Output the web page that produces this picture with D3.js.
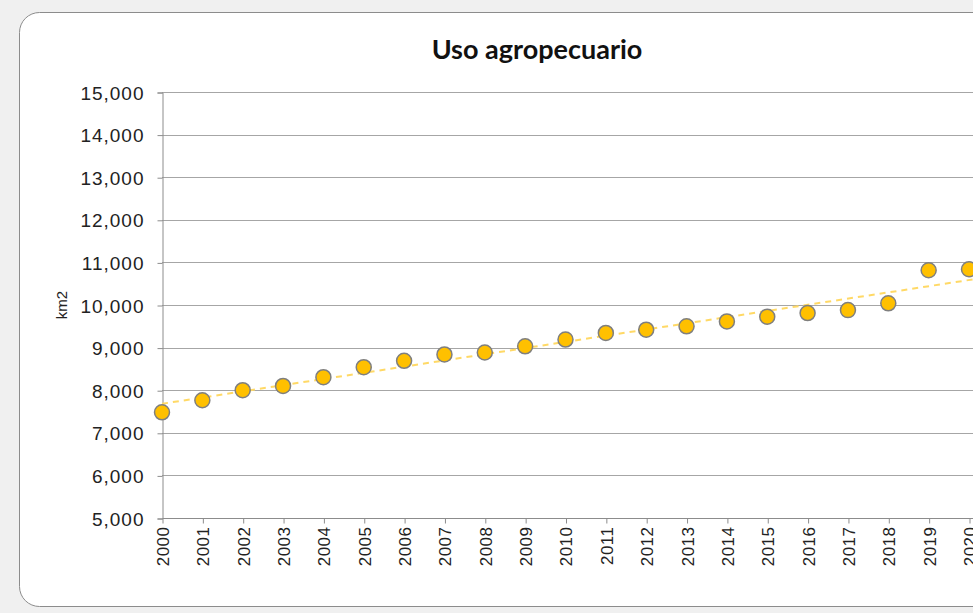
<!DOCTYPE html>
<html>
<head>
<meta charset="utf-8">
<script src="https://cdn.jsdelivr.net/npm/d3@7"></script>
<style>
  body { margin: 0; background: #f0f0f0; overflow: hidden; }
</style>
</head>
<body>
<div id="chart"></div>
<script>
var width = 973, height = 613;

// data
var years = ["2000","2001","2002","2003","2004","2005","2006","2007","2008","2009","2010",
             "2011","2012","2013","2014","2015","2016","2017","2018","2019","2020"];
var area = [7480, 7765, 8000, 8100, 8305, 8540, 8690, 8840, 8885, 9030, 9188,
            9345, 9420, 9500, 9615, 9725, 9810, 9880, 10040, 10815, 10840];
var yTicks = [5000, 6000, 7000, 8000, 9000, 10000, 11000, 12000, 13000, 14000, 15000];

var plot = {left: 162, right: 969, top: 92, bottom: 518};

var svg = d3.select("#chart").append("svg")
    .attr("width", width)
    .attr("height", height);

// card
svg.append("rect")
    .attr("x", 19.5).attr("y", 12.5)
    .attr("width", 1000).attr("height", 594)
    .attr("rx", 20).attr("ry", 20)
    .attr("fill", "#ffffff")
    .attr("stroke", "#8c8c8c")
    .attr("stroke-width", 1);

var x = d3.scalePoint().domain(years).range([plot.left, plot.right]);
var y = d3.scaleLinear().domain([5000, 15000]).range([plot.bottom, plot.top]);

// gridlines
svg.append("g").selectAll("line")
    .data(yTicks.slice(1))
  .enter().append("line")
    .attr("x1", plot.left).attr("x2", width)
    .attr("y1", function(d) { return Math.round(y(d)) + 0.5; })
    .attr("y2", function(d) { return Math.round(y(d)) + 0.5; })
    .attr("stroke", "#a6a6a6")
    .attr("stroke-width", 1);

// y axis
var yAxis = svg.append("g")
    .attr("transform", "translate(" + (plot.left + 0.5) + ",0.5)")
    .call(d3.axisLeft(y).tickValues(yTicks).tickSize(5).tickPadding(13)
        .tickFormat(d3.format(",")));
yAxis.select(".domain").attr("stroke", "#8c8c8c");
yAxis.selectAll(".tick line").attr("stroke", "#8c8c8c");
yAxis.selectAll("text")
    .attr("font-family", "Liberation Sans, Arial, sans-serif")
    .attr("font-size", "19px")
    .attr("letter-spacing", "1px")
    .attr("fill", "#222")
    .attr("dy", "0.35em");

// x axis
var xAxis = svg.append("g")
    .attr("transform", "translate(0.5," + (plot.bottom + 0.5) + ")")
    .call(d3.axisBottom(x).tickSize(5).tickPadding(0));
xAxis.select(".domain").attr("stroke", "#8c8c8c").attr("d", "M" + plot.left + ",0H" + width);
xAxis.selectAll(".tick line").attr("stroke", "#8c8c8c");
xAxis.selectAll("text")
    .attr("font-family", "Liberation Sans, Arial, sans-serif")
    .attr("font-size", "17px")
    .attr("letter-spacing", "0.5px")
    .attr("fill", "#222")
    .attr("text-anchor", "end")
    .attr("transform", "rotate(-90)")
    .attr("x", -8)
    .attr("y", 0)
    .attr("dy", "0.35em");

// linear trend (least squares over the data)
var n = area.length, sx = 0, sy = 0, sxy = 0, sxx = 0;
area.forEach(function(v, i) { sx += i; sy += v; sxy += i * v; sxx += i * i; });
var slope = (n * sxy - sx * sy) / (n * sxx - sx * sx);
var icpt = (sy - slope * sx) / n;

svg.append("line")
    .attr("x1", x(years[0])).attr("y1", y(icpt))
    .attr("x2", x(years[n - 1]) + 8).attr("y2", y(icpt + slope * (n - 1 + 8 / x.step())))
    .attr("stroke", "#ffd966")
    .attr("stroke-width", 2)
    .attr("stroke-dasharray", "6,5");

// points
svg.append("g").selectAll("circle")
    .data(area)
  .enter().append("circle")
    .attr("cx", function(d, i) { return x(years[i]); })
    .attr("cy", function(d) { return y(d); })
    .attr("r", 7.5)
    .attr("fill", "#ffc000")
    .attr("stroke", "#7f7f7f")
    .attr("stroke-width", 1.5);

// title
svg.append("text")
    .attr("x", 537).attr("y", 59)
    .attr("text-anchor", "middle")
    .attr("font-family", "Lato, Open Sans, sans-serif")
    .attr("font-weight", "bold")
    .attr("font-size", "27px")
    .attr("fill", "#111")
    .text("Uso agropecuario");

// y label
svg.append("text")
    .attr("transform", "translate(67,305) rotate(-90)")
    .attr("text-anchor", "middle")
    .attr("font-family", "Liberation Sans, Arial, sans-serif")
    .attr("font-size", "15px")
    .attr("fill", "#222")
    .text("km2");
</script>
</body>
</html>
